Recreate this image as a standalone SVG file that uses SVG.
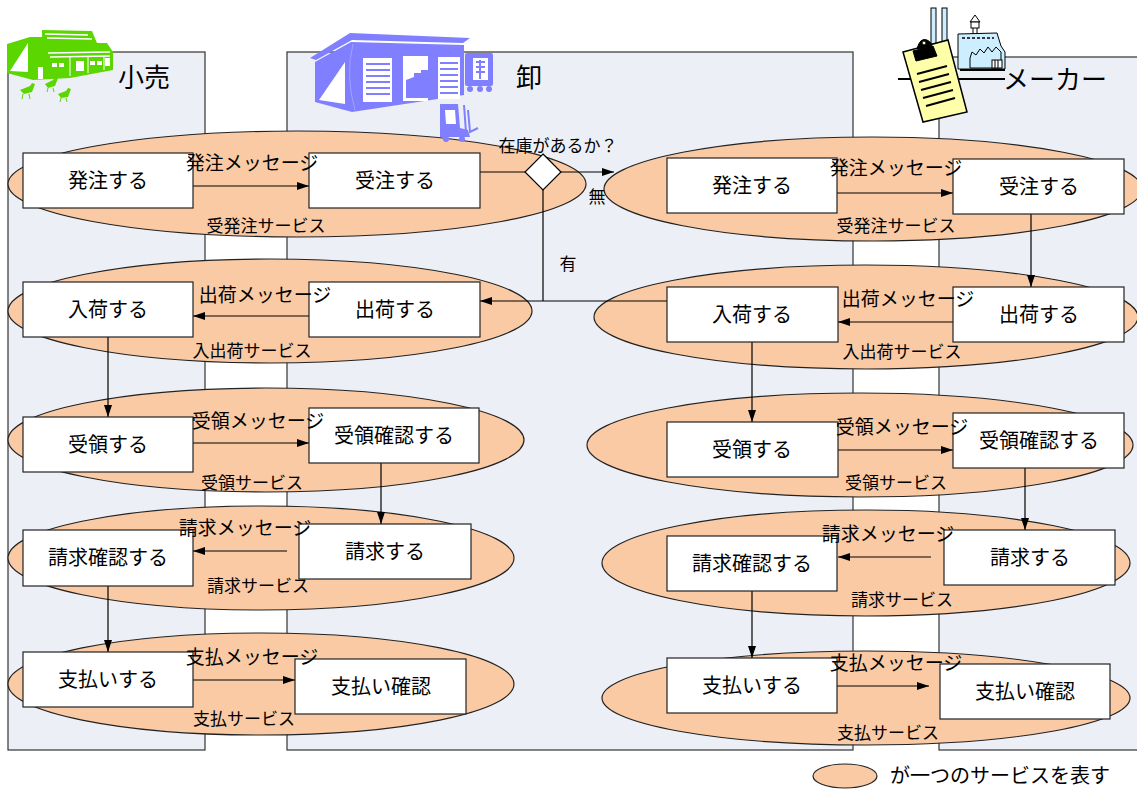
<svg xmlns="http://www.w3.org/2000/svg" width="1137" height="791" viewBox="0 0 1137 791">
<style>
  text { font-family: "Noto Sans CJK JP", "Noto Sans", sans-serif; fill: #000; }
  .lane { fill: #ECF0F6; stroke: #333; stroke-width: 1.2; }
  .svc { fill: #F9CAA3; stroke: #222; stroke-width: 1.2; }
  .box { fill: #fff; stroke: #222; stroke-width: 1.2; }
  .bt { font-size: 20px; text-anchor: middle; }
  .mt { font-size: 19px; text-anchor: middle; }
  .st { font-size: 17px; text-anchor: middle; }
  .title { font-size: 26px; }
  .con { stroke: #000; stroke-width: 1.2; fill: none; marker-end: url(#ah); }
  .ln { stroke: #000; stroke-width: 1.2; fill: none; }
</style>
<defs>
  <marker id="ah" viewBox="0 0 12 8" refX="12" refY="4" markerWidth="12" markerHeight="8" markerUnits="userSpaceOnUse" orient="auto">
    <path d="M0,0 L12,4 L0,8 Z" fill="#000"/>
  </marker>
</defs>
<rect width="1137" height="791" fill="#fff"/>

<!-- swimlanes -->
<g id="lanes">
  <rect class="lane" x="8" y="52" width="197" height="698"/>
  <rect class="lane" x="287" y="52" width="566" height="698"/>
  <rect class="lane" x="939" y="57" width="205" height="693"/>
  <text class="title" x="118" y="87">小売</text>
  <text class="title" x="516" y="87">卸</text>
  <text class="title" x="1003" y="89">メーカー</text>
</g>

<!-- services (retail - wholesale) -->
<g id="services-left">
  <ellipse class="svc" cx="297" cy="184" rx="289" ry="53"/>
  <ellipse class="svc" cx="270" cy="311" rx="262" ry="52"/>
  <ellipse class="svc" cx="266" cy="440" rx="258" ry="52"/>
  <ellipse class="svc" cx="261" cy="558" rx="253" ry="52"/>
  <ellipse class="svc" cx="261" cy="684" rx="253" ry="51"/>
</g>
<!-- services (wholesale - maker) -->
<g id="services-right">
  <ellipse class="svc" cx="873" cy="189" rx="269" ry="52"/>
  <ellipse class="svc" cx="866" cy="317" rx="272" ry="52"/>
  <ellipse class="svc" cx="860" cy="445" rx="273" ry="52"/>
  <ellipse class="svc" cx="866" cy="563" rx="264" ry="53"/>
  <ellipse class="svc" cx="866" cy="698" rx="264" ry="47"/>
</g>

<!-- store icon -->
<g id="icon-store" fill="#5CD600">
  <path d="M7,44 L30,37 L42,37 L42,30 L92,31 L97,43 L107,43 L113,52 L113,70 L70,78 L33,80 L7,73 Z"/>
  <path d="M10,71 L28,43 L28,72 Z" fill="#fff"/>
  <path d="M45,34 L88,35 M47,38 L92,39" stroke="#fff" stroke-width="1.3"/>
  <path d="M48,53 L110,52 M50,57 L110,56" stroke="#fff" stroke-width="1.5"/>
  <path d="M70,57 V76 M88,57 V73 M104,56 V70" stroke="#fff" stroke-width="1"/>
  <rect x="38" y="67" width="5" height="12" fill="#fff"/>
  <rect x="52" y="63" width="5" height="4" fill="#fff"/>
  <rect x="59" y="63" width="5" height="4" fill="#fff"/>
  <rect x="76" y="61" width="8" height="10" fill="#fff"/>
  <rect x="90" y="61" width="5" height="4" fill="#fff"/>
  <rect x="97" y="61" width="5" height="4" fill="#fff"/>
  <rect x="105" y="58" width="5" height="8" fill="#fff"/>
  <path d="M20,90 L30,86 L32,83 L35,84 L32,92 L24,94 Z"/>
  <path d="M45,84 L53,80 L55,77 L58,78 L55,86 L48,88 Z"/>
  <path d="M58,94 L66,91 L68,88 L71,89 L68,97 L61,98 Z"/>
  <path d="M23,94 L22,99 M29,94 L30,99 M48,88 L47,92 M53,88 L54,92 M61,98 L60,102 M66,98 L67,102" stroke="#5CD600" stroke-width="1"/>
</g>

<!-- warehouse icon -->
<g id="icon-warehouse" fill="#7F7FFF">
  <path d="M310,58 L350,33 L470,38 L463,43 L352,40 L316,60 Z"/>
  <path d="M315,62 L351,42 L464,45 L464,95 L352,112 L315,102 Z"/>
  <path d="M319,100 L345,62 L345,104 Z" fill="#fff"/>
  <path d="M353,44 Q345,75 355,110" stroke="#aaaaff" stroke-width="0.8" fill="none"/>
  <rect x="363" y="58" width="29" height="44" fill="#fff"/>
  <rect x="403" y="56" width="25" height="45" fill="#fff"/>
  <rect x="438" y="57" width="22" height="42" fill="#fff"/>
  <path d="M366,64 H390 M366,70 H390 M366,76 H390 M366,82 H390 M366,88 H390 M366,94 H390 M440,63 H458 M440,69 H458 M440,75 H458 M440,81 H458 M440,87 H458 M440,93 H458" stroke="#7F7FFF" stroke-width="2.2"/>
  <path d="M406,80 L414,77 L414,73 L421,73 L421,70 L428,70 L428,98 L406,98 Z"/>
  <rect x="465" y="53" width="28" height="33" rx="2"/>
  <rect x="473" y="58" width="15" height="22" fill="#fff"/>
  <path d="M476,62 H485 M476,67 H485 M476,72 H485 M480,60 V79" stroke="#7F7FFF" stroke-width="2"/>
  <circle cx="470" cy="89" r="3"/>
  <circle cx="480" cy="89" r="3"/>
  <circle cx="489" cy="89" r="3"/>
  <path d="M440,104 L458,104 L460,128 L468,130 L470,137 L440,137 Z"/>
  <path d="M445,110 L455,110 L456,124 L446,124 Z" fill="#fff"/>
  <path d="M464,105 L466,132 M468,110 L470,132 L478,128" stroke="#7F7FFF" stroke-width="2" fill="none"/>
  <circle cx="446" cy="139" r="3"/>
  <circle cx="462" cy="139" r="3"/>
</g>

<!-- factory and clipboard icon -->
<g id="icon-maker" stroke="#000" stroke-width="1">
  <path d="M898,79 H1005" stroke-width="2"/>
  <rect x="931" y="8" width="5" height="36" fill="#CCEEFF"/>
  <rect x="942" y="8" width="5" height="36" fill="#CCEEFF"/>
  <path d="M958,34 L997,33 L1001,46 L1005,52 L1005,69 L958,69 Z" fill="#CCEEFF"/>
  <path d="M962,38 H994" stroke-dasharray="3,2" stroke-width="1.6"/>
  <path d="M970,58 L972,52 L976,55 L980,49 L984,53 L988,47 L992,52 L996,47 L1001,52 L1001,68 L970,68 Z" fill="#CCEEFF"/>
  <rect x="992" y="60" width="10" height="8" fill="#fff"/>
  <path d="M995,60 V68 M998,60 V68"/>
  <path d="M970,22 L975,15 L980,22 Z" fill="#fff"/>
  <rect x="971" y="22" width="8" height="6" fill="#fff"/>
  <path d="M973,28 V34 M977,28 V34"/>
  <path d="M960,70 H1005" stroke-width="2"/>
  <path d="M903,52 L948,40 L967,112 L923,122 Z" fill="#FFFFAA" stroke-width="1.5"/>
  <path d="M913,51 L933,46 L937,56 L916,61 Z" fill="#000"/>
  <path d="M917,49 Q920,37 927,40 Q933,43 931,47 Z" fill="#000"/>
  <circle cx="924" cy="43" r="2" fill="#FFFFAA"/>
  <path d="M917,74 L947,66 M919,82 L949,74 M921,90 L951,82 M923,98 L953,90 M926,106 L955,98" stroke-width="2"/>
</g>

<!-- connectors -->
<g id="connectors">
  <path class="con" d="M193,186 H309"/>
  <path class="ln" d="M480,172 H526"/>
  <path class="con" d="M560,172 H614"/>
  <path class="ln" d="M543,189 V301"/>
  <path class="con" d="M667,301 H480"/>
  <path class="con" d="M309,316 H193"/>
  <path class="con" d="M108,337 V417"/>
  <path class="con" d="M193,443 H309"/>
  <path class="con" d="M381,463 V524"/>
  <path class="con" d="M287,551 H193"/>
  <path class="con" d="M108,586 V652"/>
  <path class="con" d="M193,680 H295"/>

  <path class="con" d="M837,193 H953"/>
  <path class="con" d="M1031,214 V287"/>
  <path class="con" d="M953,322 H838"/>
  <path class="con" d="M752,342 V422"/>
  <path class="con" d="M838,450 H953"/>
  <path class="con" d="M1025,468 V530"/>
  <path class="con" d="M931,557 H838"/>
  <path class="con" d="M752,591 V658"/>
  <path class="con" d="M837,686 H929"/>
</g>

<!-- decision -->
<g id="stock-check">
  <path d="M543,154 L561,172 L543,190 L525,172 Z" fill="#fff" stroke="#000" stroke-width="1.2"/>
</g>

<!-- retail activities -->
<g id="r-order"><rect class="box" x="23" y="153" width="170" height="55"/><text class="bt" x="108" y="188">発注する</text></g>
<g id="r-receive"><rect class="box" x="23" y="282" width="170" height="55"/><text class="bt" x="108" y="317">入荷する</text></g>
<g id="r-accept"><rect class="box" x="23" y="417" width="170" height="55"/><text class="bt" x="108" y="452">受領する</text></g>
<g id="r-invoice-check"><rect class="box" x="23" y="530" width="170" height="56"/><text class="bt" x="108" y="565">請求確認する</text></g>
<g id="r-pay"><rect class="box" x="23" y="652" width="170" height="55"/><text class="bt" x="108" y="687">支払いする</text></g>

<!-- wholesale activities facing retail -->
<g id="w-take-order"><rect class="box" x="309" y="153" width="171" height="55"/><text class="bt" x="395" y="188">受注する</text></g>
<g id="w-ship"><rect class="box" x="309" y="282" width="171" height="55"/><text class="bt" x="395" y="317">出荷する</text></g>
<g id="w-accept-check"><rect class="box" x="309" y="408" width="170" height="55"/><text class="bt" x="394" y="443">受領確認する</text></g>
<g id="w-invoice"><rect class="box" x="299" y="524" width="172" height="55"/><text class="bt" x="385" y="559">請求する</text></g>
<g id="w-pay-check"><rect class="box" x="295" y="659" width="171" height="55"/><text class="bt" x="381" y="694">支払い確認</text></g>

<!-- wholesale activities facing maker -->
<g id="w-order"><rect class="box" x="667" y="158" width="170" height="55"/><text class="bt" x="752" y="193">発注する</text></g>
<g id="w-receive"><rect class="box" x="667" y="287" width="171" height="55"/><text class="bt" x="752" y="322">入荷する</text></g>
<g id="w-accept"><rect class="box" x="667" y="422" width="171" height="55"/><text class="bt" x="752" y="457">受領する</text></g>
<g id="w-invoice-check"><rect class="box" x="667" y="536" width="170" height="55"/><text class="bt" x="752" y="571">請求確認する</text></g>
<g id="w-pay"><rect class="box" x="667" y="658" width="170" height="55"/><text class="bt" x="752" y="693">支払いする</text></g>

<!-- maker activities -->
<g id="m-take-order"><rect class="box" x="953" y="159" width="171" height="55"/><text class="bt" x="1039" y="194">受注する</text></g>
<g id="m-ship"><rect class="box" x="953" y="287" width="171" height="55"/><text class="bt" x="1039" y="322">出荷する</text></g>
<g id="m-accept-check"><rect class="box" x="953" y="413" width="171" height="55"/><text class="bt" x="1039" y="448">受領確認する</text></g>
<g id="m-invoice"><rect class="box" x="944" y="530" width="171" height="55"/><text class="bt" x="1030" y="565">請求する</text></g>
<g id="m-pay-check"><rect class="box" x="940" y="664" width="170" height="55"/><text class="bt" x="1025" y="699">支払い確認</text></g>

<!-- message and service labels (drawn over the activity boxes) -->
<g id="labels">
  <text class="mt" x="252" y="170">発注メッセージ</text>
  <text class="st" x="266" y="232">受発注サービス</text>
  <text class="mt" x="265" y="302">出荷メッセージ</text>
  <text class="st" x="252" y="357">入出荷サービス</text>
  <text class="mt" x="258" y="428">受領メッセージ</text>
  <text class="st" x="252" y="489">受領サービス</text>
  <text class="mt" x="245" y="535">請求メッセージ</text>
  <text class="st" x="258" y="592">請求サービス</text>
  <text class="mt" x="252" y="664">支払メッセージ</text>
  <text class="st" x="244" y="725">支払サービス</text>

  <text class="mt" x="896" y="175">発注メッセージ</text>
  <text class="st" x="896" y="232">受発注サービス</text>
  <text class="mt" x="908" y="306">出荷メッセージ</text>
  <text class="st" x="902" y="358">入出荷サービス</text>
  <text class="mt" x="902" y="434">受領メッセージ</text>
  <text class="st" x="896" y="489">受領サービス</text>
  <text class="mt" x="888" y="541">請求メッセージ</text>
  <text class="st" x="902" y="606">請求サービス</text>
  <text class="mt" x="896" y="670">支払メッセージ</text>
  <text class="st" x="888" y="739">支払サービス</text>

  <text class="st" x="558" y="152">在庫があるか？</text>
  <text class="st" x="597" y="203">無</text>
  <text class="st" x="568" y="270">有</text>
</g>

<!-- legend -->
<g id="legend">
  <ellipse class="svc" cx="845" cy="776" rx="32" ry="12"/>
  <text x="890" y="783" font-size="20">が一つのサービスを表す</text>
</g>
</svg>
